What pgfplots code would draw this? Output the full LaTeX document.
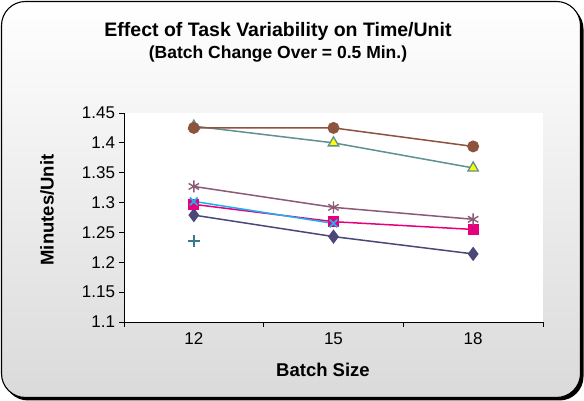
\documentclass[border=0pt]{standalone}
\usepackage{fontspec}
\setmainfont{Liberation Sans}
\usepackage{pgfplots}
\pgfplotsset{compat=1.18}
\definecolor{cnavy}{RGB}{74,72,120}
\definecolor{cpink}{RGB}{230,0,126}
\definecolor{cteal}{RGB}{96,144,144}
\definecolor{cyel}{RGB}{255,255,0}
\definecolor{ccyan}{RGB}{30,176,236}
\definecolor{cmauve}{RGB}{140,90,120}
\definecolor{cbrown}{RGB}{141,83,62}
\definecolor{cplus}{RGB}{60,120,140}
\begin{document}
\begin{tikzpicture}
\useasboundingbox (0pt,0pt) rectangle (584pt,401pt);
\fill[black,rounded corners=24pt] (4pt,0.5pt) rectangle (583.5pt,396pt);
\shade[top color=white,bottom color={rgb,255:red,218;green,218;blue,218},rounded corners=24pt,draw=black,line width=1.1pt] (1.5pt,3.5pt) rectangle (580.5pt,399.5pt);
\node[font=\fontsize{19.5}{22}\selectfont\bfseries] at (278pt,370pt) {Effect of Task Variability on Time/Unit};
\node[font=\fontsize{17.5}{20}\selectfont\bfseries] at (278pt,347pt) {(Batch Change Over = 0.5 Min.)};
\node[font=\fontsize{18.5}{21}\selectfont\bfseries,rotate=90] at (47pt,191pt) {Minutes/Unit};
\node[font=\fontsize{18.5}{21}\selectfont\bfseries] at (323pt,31pt) {Batch Size};
\begin{axis}[
  at={(124pt,79pt)}, anchor=south west,
  scale only axis, width=419pt, height=209pt,
  xmin=-0.5, xmax=2.5, ymin=1.1, ymax=1.45,
  axis background/.style={fill=white},
  axis x line*=bottom, axis y line*=left,
  axis line style={black, line width=0.8pt},
  tick align=outside,
  major tick length=5pt,
  tick style={black, line width=0.8pt},
  xtick={-0.5,0.5,1.5,2.5}, xticklabels={},
  extra x ticks={0,1,2}, extra x tick labels={12,15,18},
  extra x tick style={major tick length=0pt},
  ytick={1.1,1.15,1.2,1.25,1.3,1.35,1.4,1.45},
  yticklabels={1.1,1.15,1.2,1.25,1.3,1.35,1.4,1.45},
  ticklabel style={font=\fontsize{17}{20}\selectfont},
  xticklabel style={yshift=-7pt},
  yticklabel style={xshift=-0.5pt},
  /pgf/number format/assume math mode=true,
  clip=false,
  every axis plot/.append style={line width=1.5pt},
]
\addplot[cnavy, mark=diamond*, mark size=6pt, mark options={fill=cnavy}] coordinates {(0,1.279) (1,1.243) (2,1.214)};
\addplot[cpink, mark=square*, mark size=4.8pt, mark options={fill=cpink}] coordinates {(0,1.297) (1,1.268) (2,1.255)};
\addplot[cteal, mark=triangle*, mark size=6pt, mark options={fill=cyel, draw=cteal, line width=1.3pt}] coordinates {(0,1.428) (1,1.400) (2,1.358)};
\addplot[ccyan, mark=x, mark size=5.5pt, mark options={line width=1.8pt}] coordinates {(0,1.302) (1,1.265)};
\addplot[cmauve, mark=asterisk, mark size=6pt, mark options={line width=1.4pt}] coordinates {(0,1.327) (1,1.292) (2,1.272)};
\addplot[cbrown, mark=*, mark size=5.2pt, mark options={fill=cbrown}] coordinates {(0,1.425) (1,1.425) (2,1.394)};
\addplot[cplus, only marks, mark=+, mark size=6pt, mark options={line width=1.5pt}] coordinates {(0,1.236)};
\end{axis}
\end{tikzpicture}
\end{document}
